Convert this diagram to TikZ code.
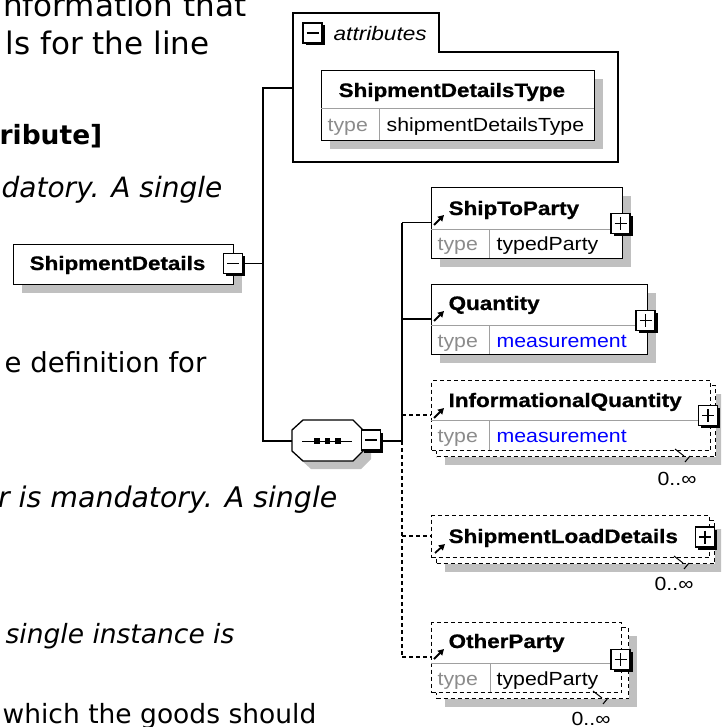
\documentclass[tikz,border=0pt]{standalone}
\usepackage{fontspec}
\usepackage{graphicx}
\usetikzlibrary{arrows.meta,shadows}
\newfontfamily\dgfont{Liberation Sans}
\newfontfamily\dgheavy[FakeBold=0.7]{Liberation Sans Bold}
\newfontfamily\txfont{DejaVu Sans}
\definecolor{shd}{HTML}{C0C0C0}
\definecolor{dvd}{HTML}{A0A0A0}
\definecolor{typegray}{HTML}{8C8C8C}
\definecolor{lnkblue}{HTML}{0000FF}
\newcommand\nmb[1]{\scalebox{1.15}[1]{\dgheavy\fontsize{19.5}{20}\selectfont #1}}
\newcommand\nmr[1]{\scalebox{1.12}[1]{\dgfont\fontsize{19}{20}\selectfont #1}}
\newcommand\nmi[1]{\scalebox{1.16}[1]{\dgfont\fontsize{19.5}{20}\selectfont\itshape #1}}
\newcommand\txt[2]{{\txfont\fontsize{#1}{#1}\selectfont #2}}
\begin{document}
\begin{tikzpicture}[x=1pt,y=-1pt,line width=1.3pt,
  elbox/.style={draw=black,fill=white,line width=1.3pt,inner sep=0pt,anchor=north west},
  shbox/.style={elbox,drop shadow={shadow xshift=8pt,shadow yshift=-8pt,fill=shd,opacity=1}},
  optbox/.style={elbox,dash pattern=on 4pt off 3pt},
  optshbox/.style={shbox,dash pattern=on 4pt off 3pt},
  lbl/.style={inner sep=0pt,anchor=base west},
  lble/.style={inner sep=0pt,anchor=base east},
  conn/.style={draw=black,line width=1.3pt},
  dconn/.style={conn,dash pattern=on 4pt off 3pt},
  divl/.style={draw=dvd,line width=1pt},
  pmbase/.style={draw=black,fill=white,line width=1.3pt,minimum width=19pt,minimum height=20pt,inner sep=0pt,
    drop shadow={shadow xshift=2.5pt,shadow yshift=-2.5pt,fill=black,opacity=1}},
  pmminus/.style={pmbase,path picture={\draw[line width=1.4pt]
      ([xshift=3.5pt]path picture bounding box.west) -- ([xshift=-3.5pt]path picture bounding box.east);}},
  pmplus/.style={pmbase,path picture={\draw[line width=1.4pt]
      ([xshift=3.5pt]path picture bounding box.west) -- ([xshift=-3.5pt]path picture bounding box.east)
      ([yshift=-3.5pt]path picture bounding box.north) -- ([yshift=3.5pt]path picture bounding box.south);}},
  refarrow/.style={-{Triangle[length=6pt,width=6.5pt]},line width=1.8pt},
  tick/.style={draw=black,line width=1pt}
]
\useasboundingbox (0,0) rectangle (721,727);
\clip (0,0) rectangle (721,727);
\fill[white] (0,0) rectangle (721,727);

% ---------- background document text ----------
\node[lble] (t1) at (247,17) {\txt{31}{nformation that}};
\node[lble] (t2) at (210,55) {\txt{31}{ls for the line}};
\node[lble] (t3) at (103,145) {\txt{26.5}{\bfseries ribute]}};
\node[lble] (t4) at (223,197) {\txt{28}{\itshape datory. A single}};
\node[lble] (t5) at (207,372) {\txt{27.5}{e definition for}};
\node[lble] (t6) at (338,507) {\txt{28.4}{\itshape r is mandatory. A single}};
\node[lbl] (t7) at (5,643) {\txt{26.5}{\itshape single instance is}};
\node[lbl] (t8) at (2,723) {\txt{26.5}{which the goods should}};

% ---------- connectors ----------
\coordinate (attrL) at (293,88);
\coordinate (tr1top) at (263,88);
\coordinate (tr1mid) at (263,263.5);
\coordinate (tr1bot) at (263,441);
\coordinate (seqL) at (292,441);
\coordinate (tr2top) at (402,222.5);
\coordinate (tr2q) at (402,319);
\coordinate (tr2mid) at (402,441);
\coordinate (tr2iq) at (402,415);
\coordinate (tr2sld) at (402,536);
\coordinate (tr2op) at (402,657);

\draw[conn] (attrL) -- (tr1top) -- (tr1bot) -- (seqL);
\draw[conn] (tr1mid) -- (243,263.5);
\draw[conn] (tr2top) -- (tr2mid) -- (380,441);
\draw[dconn] (tr2mid) -- (tr2op);

% ---------- attributes group ----------
\draw[line width=1.3pt] (293,162) -- (293,13) -- (439,13) -- (439,52) -- (618,52) -- (618,162) -- cycle;
\node[pmminus] (attrm) at (312.5,33) {};
\node[lbl] (attrt) at (333,41) {\nmi{attributes}};
\node[shbox,minimum width=273pt,minimum height=70pt] (sdt) at (321,70) {};
\draw[divl] (321,109) -- (594,109) (379,109) -- (379,140);
\node[lbl] (sdtname) at (338,97) {\nmb{ShipmentDetailsType}};
\node[lbl,text=typegray] (sdttype) at (327,132) {\nmr{type}};
\node[lbl] (sdttval) at (386,132) {\nmr{shipmentDetailsType}};

% ---------- root element ----------
\node[shbox,minimum width=220pt,minimum height=40pt] (sd) at (13,244) {};
\node[lbl] (sdname) at (29,270) {\nmb{ShipmentDetails}};
\node[pmminus] (sdm) at (233,263.5) {};

% ---------- sequence compositor ----------
\fill[shd] (311,428) -- (361,428) -- (371,438) -- (371,459) -- (361,469) -- (311,469) -- (300,459) -- (300,438) -- cycle;
\draw[fill=white,line width=1.3pt] (303,420) -- (353,420) -- (363,430) -- (363,451) -- (353,461) -- (303,461) -- (292,451) -- (292,430) -- cycle;
\draw[line width=1pt] (302,441) -- (352,441);
\foreach \sx in {317,327.5,338} \fill (\sx-2.8,438.2) rectangle (\sx+2.8,443.8);
\node[pmminus] (seqm) at (371,440) {};

% ---------- ShipToParty ----------
\draw[conn] (tr2top) -- (431,222.5);
\node[shbox,minimum width=191pt,minimum height=71pt] (stp) at (431,187) {};
\draw[divl] (431,229) -- (622,229) (489,229) -- (489,258);
\node[lbl] (stpname) at (448,215) {\nmb{ShipToParty}};
\draw[refarrow] (434,225) -- (444,215);
\node[lbl,text=typegray] (stptype) at (437,250) {\nmr{type}};
\node[lbl] (stptval) at (496,250) {\nmr{typedParty}};
\node[pmplus] (stpp) at (620.5,223.5) {};

% ---------- Quantity ----------
\draw[conn] (tr2q) -- (431,319);
\node[shbox,minimum width=216pt,minimum height=70pt] (qty) at (431,284) {};
\draw[divl] (431,325) -- (647,325) (489,325) -- (489,354);
\node[lbl] (qtyname) at (448,310) {\nmb{Quantity}};
\draw[refarrow] (434,321) -- (444,311);
\node[lbl,text=typegray] (qtytype) at (437,347) {\nmr{type}};
\node[lbl,text=lnkblue] (qtytval) at (496,347) {\nmr{measurement}};
\node[pmplus] (qtyp) at (645.5,320.5) {};

% ---------- InformationalQuantity ----------
\draw[dconn] (tr2iq) -- (431,415);
\node[optshbox,minimum width=279pt,minimum height=71pt] (iqback) at (436,385) {};
\node[optbox,minimum width=279pt,minimum height=70pt] (iq) at (431,380) {};
\draw[divl] (431,420) -- (710,420) (489,420) -- (489,450);
\node[lbl] (iqname) at (448,407) {\nmb{InformationalQuantity}};
\draw[refarrow] (434,418) -- (444,408);
\node[lbl,text=typegray] (iqtype) at (437,442) {\nmr{type}};
\node[lbl,text=lnkblue] (iqtval) at (496,442) {\nmr{measurement}};
\node[pmplus] (iqp) at (708,415.5) {};
\draw[tick] (675,449) -- (684,456) (690,456) -- (685,462);
\node[lbl] (iqmult) at (657,485) {\nmr{0..∞}};

% ---------- ShipmentLoadDetails ----------
\draw[dconn] (tr2sld) -- (431,536);
\node[optshbox,minimum width=278pt,minimum height=43pt] (sldback) at (436,520) {};
\node[optbox,minimum width=278pt,minimum height=42pt] (sld) at (431,515) {};
\node[lbl] (sldname) at (448,543) {\nmb{ShipmentLoadDetails}};
\draw[refarrow] (435,553) -- (445,544);
\node[pmplus] (sldp) at (705,537) {};
\draw[tick] (674,556) -- (683,563) (689,563) -- (684,569);
\node[lbl] (sldmult) at (654,590) {\nmr{0..∞}};

% ---------- OtherParty ----------
\draw[dconn] (tr2op) -- (431,657);
\node[optshbox,minimum width=192pt,minimum height=71pt] (opback) at (436,627) {};
\node[optbox,minimum width=190pt,minimum height=70pt] (op) at (431,622) {};
\draw[divl] (431,663) -- (621,663) (490,663) -- (490,692);
\node[lbl] (opname) at (448,648) {\nmb{OtherParty}};
\draw[refarrow] (434,659) -- (444,649);
\node[lbl,text=typegray] (optype) at (437,685) {\nmr{type}};
\node[lbl] (optval) at (496,685) {\nmr{typedParty}};
\node[pmplus] (opp) at (620.5,659.5) {};
\draw[tick] (593,691) -- (602,698) (608,698) -- (603,704);
\node[lbl] (opmult) at (571,725) {\nmr{0..∞}};
\end{tikzpicture}
\end{document}
